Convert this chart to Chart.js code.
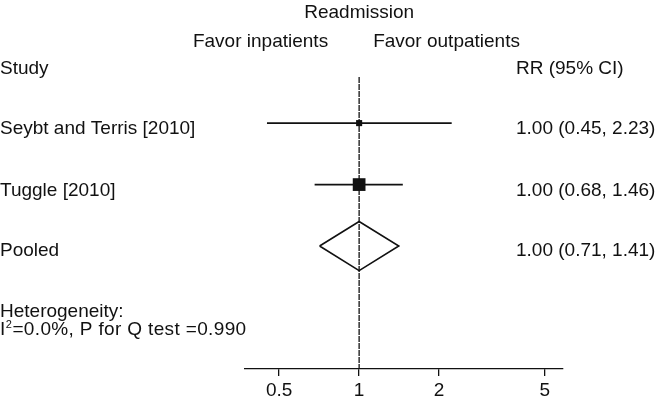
<!DOCTYPE html>
<html>
<head>
<meta charset="utf-8">
<script src="https://cdn.jsdelivr.net/npm/chart.js@4"></script>
<style>
    body { margin: 0; background: #ffffff; }
</style>
</head>
<body>
<canvas id="forestChart" width="656" height="400"></canvas>
<script>
// данные
const studies = ["Seybt and Terris [2010]", "Tuggle [2010]"];
const studyRR = [1.00, 1.00];
const studyLower = [0.45, 0.68];
const studyUpper = [2.23, 1.46];

const pooledLabel = "Pooled";
const pooledRR = [1.00];
const pooledLower = [0.71];
const pooledUpper = [1.41];

const xTicks = [0.5, 1, 2, 5];
const heterogeneityLines = ["Heterogeneity:", "=0.0%, P for Q test =0.990"];

function fmt(v) {
    return v.toFixed(2);
}

function forestPlot() {
    const ink = "#111111";
    const fontFamily = '"Liberation Sans", Arial, sans-serif';
    const boxSizes = [4.3, 9];      // размер квадратов (вес исследования)
    const diamondHalf = 0.4;        // половина высоты ромба в строках

    // строки: исследования 1..n, затем pooled
    const pooledRow = studies.length + 1;

    let datasets = [];

    // доверительные интервалы
    for (let i = 0; i < studies.length; i++) {
        datasets.push({
            type: 'line',
            data: [{x: studyLower[i], y: i + 1}, {x: studyUpper[i], y: i + 1}],
            borderColor: ink,
            borderWidth: 1.6,
            pointRadius: 0,
            fill: false
        });
    }

    // линия отсчёта RR = 1
    datasets.push({
        type: 'line',
        data: [{x: 1, y: 0.25}, {x: 1, y: 5}],
        borderColor: ink,
        borderWidth: 1.3,
        borderDash: [6, 1],
        pointRadius: 0,
        fill: false
    });

    // квадраты
    datasets.push({
        type: 'scatter',
        data: studies.map((s, i) => ({x: studyRR[i], y: i + 1})),
        pointStyle: 'rect',
        pointRadius: boxSizes,
        pointBackgroundColor: ink,
        pointBorderColor: ink,
        pointBorderWidth: 0
    });

    // ромб
    datasets.push({
        type: 'line',
        data: [
            {x: pooledLower[0], y: pooledRow},
            {x: pooledRR[0], y: pooledRow - diamondHalf},
            {x: pooledUpper[0], y: pooledRow},
            {x: pooledRR[0], y: pooledRow + diamondHalf},
            {x: pooledLower[0], y: pooledRow}
        ],
        borderColor: ink,
        borderWidth: 1.6,
        backgroundColor: 'transparent',
        pointRadius: 0,
        tension: 0,
        fill: false
    });

    // подписи
    const textPlugin = {
        id: 'forestText',
        afterDraw(chart) {
            const ctx = chart.ctx;
            const xs = chart.scales.x;
            const ys = chart.scales.y;
            const x1 = xs.getPixelForValue(1);
            const rrX = 516;

            ctx.save();
            ctx.fillStyle = ink;
            ctx.font = '19px ' + fontFamily;
            ctx.textBaseline = 'alphabetic';

            ctx.textAlign = 'center';
            ctx.fillText("Readmission", x1, 18);
            ctx.textAlign = 'right';
            ctx.fillText("Favor inpatients", x1 - 31, 47);
            ctx.textAlign = 'left';
            ctx.fillText("Favor outpatients", x1 + 14, 47);

            ctx.fillText("Study", 0, 74);
            ctx.fillText("RR (95% CI)", rrX, 74);

            for (let i = 0; i < studies.length; i++) {
                const y = ys.getPixelForValue(i + 1) + 11;
                ctx.fillText(studies[i], 0, y);
                ctx.fillText(fmt(studyRR[i]) + " (" + fmt(studyLower[i]) + ", " + fmt(studyUpper[i]) + ")", rrX, y);
            }
            const py = ys.getPixelForValue(pooledRow) + 10;
            ctx.fillText(pooledLabel, 0, py);
            ctx.fillText(fmt(pooledRR[0]) + " (" + fmt(pooledLower[0]) + ", " + fmt(pooledUpper[0]) + ")", rrX, py);

            // гетерогенность
            ctx.fillText(heterogeneityLines[0], 0, 317);
            ctx.fillText("I", 0, 335);
            let w = ctx.measureText("I").width;
            ctx.font = '11px ' + fontFamily;
            ctx.fillText("2", w + 0.5, 328);
            w += ctx.measureText("2").width + 1;
            ctx.font = '19px ' + fontFamily;
            ctx.letterSpacing = '0.35px';
            ctx.fillText(heterogeneityLines[1], w, 335);
            ctx.restore();
        }
    };

    const chart = new Chart(document.getElementById('forestChart').getContext('2d'), {
        data: { datasets: datasets },
        options: {
            responsive: false,
            animation: false,
            layout: {
                padding: { left: 245, right: 93, top: 77, bottom: 0 }
            },
            plugins: {
                legend: { display: false },
                tooltip: { enabled: false }
            },
            scales: {
                x: {
                    type: 'logarithmic',
                    min: 0.372,
                    max: 5.85,
                    afterBuildTicks: function(scale) {
                        scale.ticks = xTicks.map(v => ({value: v}));
                    },
                    afterFit: function(scale) {
                        scale.height = 31;
                    },
                    border: { display: true, color: ink, width: 1.3 },
                    grid: {
                        drawOnChartArea: false,
                        drawTicks: true,
                        tickLength: 7,
                        color: ink,
                        lineWidth: 1.3
                    },
                    ticks: {
                        color: ink,
                        padding: 3,
                        autoSkip: false,
                        maxRotation: 0,
                        font: { size: 19, family: fontFamily },
                        callback: function(value) {
                            return String(value);
                        }
                    }
                },
                y: {
                    type: 'linear',
                    display: false,
                    reverse: true,
                    min: 0.25,
                    max: 5
                }
            }
        },
        plugins: [textPlugin]
    });
}

forestPlot();
</script>
</body>
</html>
